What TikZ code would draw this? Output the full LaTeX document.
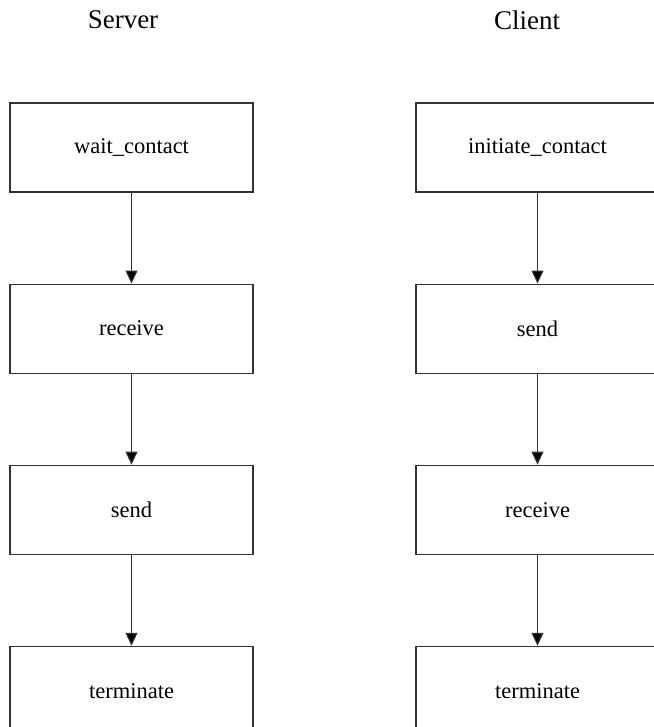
\documentclass[tikz,border=0pt]{standalone}
\usepackage{fontspec}
\setmainfont{Liberation Serif}
\usetikzlibrary{positioning}
\usetikzlibrary{arrows.meta}

\tikzset{
	stepbox/.style={draw=black!80,line width=1.1pt,minimum width=243pt,minimum height=89pt,inner sep=0pt,font=\fontsize{22.5}{24}\selectfont},
	title/.style={font=\fontsize{27}{30}\selectfont},
}

\begin{document}
\begin{tikzpicture}[x=1pt,y=1pt,node distance=91pt,>={Triangle[length=13pt,width=12pt]}]
	\useasboundingbox (0,0) rectangle (653,-727);
	\node[title] (S) at (123,-20) {Server};
	\node[title] (C) at (527,-20) {Client};
	\node[stepbox] (S0) at (131.5,-147.5) {wait\_contact};
	\node[stepbox, below=of S0] (S1) {receive};
	\node[stepbox, below=of S1] (S2) {send};
	\node[stepbox, below=of S2] (S3) {terminate};
	\node[stepbox] (C0) at (537.5,-147.5) {initiate\_contact};
	\node[stepbox, below=of C0] (C1) {send};
	\node[stepbox, below=of C1] (C2) {receive};
	\node[stepbox, below=of C2] (C3) {terminate};
	\path[->,draw=black!80,line width=1.1pt] (S0)	edge (S1)
			  (S1)	edge (S2)
			  (S2)	edge (S3)
			  (C0)	edge (C1)
			  (C1)	edge (C2)
			  (C2)	edge (C3);
\end{tikzpicture}
\end{document}
